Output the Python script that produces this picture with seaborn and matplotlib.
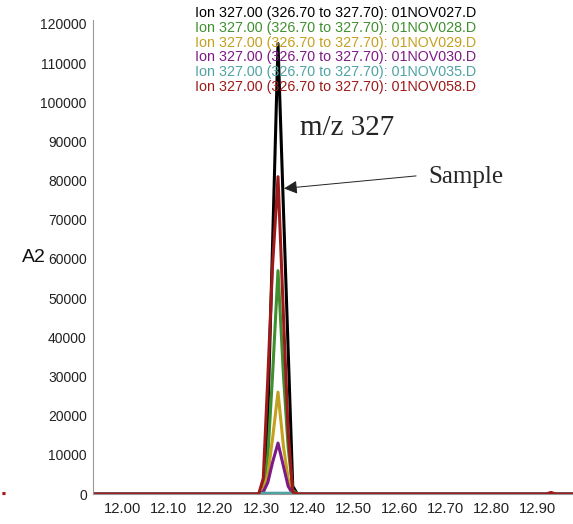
import numpy as np
import pandas as pd
import matplotlib
matplotlib.use("Agg")
import matplotlib.pyplot as plt
import seaborn as sns
from matplotlib.ticker import MultipleLocator, FixedLocator

# ---- data ----
times = [11.93, 12.295, 12.305, 12.315, 12.325, 12.337, 12.349, 12.359, 12.369, 12.379, 12.92, 12.93, 12.94, 12.98]
files = ["01NOV027.D", "01NOV028.D", "01NOV029.D", "01NOV030.D", "01NOV035.D", "01NOV058.D"]
s027 = [0, 0, 0, 20000, 63000, 115000, 72000, 37000, 2000, 0, 0, 0, 0, 0]
s028 = [0, 0, 1000, 10000, 30000, 57000, 30000, 12000, 1000, 0, 0, 0, 0, 0]
s029 = [0, 0, 1000, 5000, 14000, 26000, 12000, 4000, 0, 0, 0, 0, 0, 0]
s030 = [0, 0, 500, 3000, 8000, 13000, 7000, 2000, 0, 0, 0, 0, 0, 0]
s035 = [0, 0, 200, 200, 200, 200, 200, 200, 200, 0, 0, 0, 0, 0]
s058 = [0, 0, 4000, 30000, 58000, 81000, 45000, 16000, 500, 0, 0, 400, 0, 0]
series = [s027, s028, s029, s030, s035, s058]
colors = ["#000000", "#3f8f2f", "#c4a020", "#7e1a86", "#4fa3a3", "#9e1a1a"]
legend_label = "Ion 327.00 (326.70 to 327.70): {}"
yticks = list(range(0, 120001, 10000))
xticks = [12.00, 12.10, 12.20, 12.30, 12.40, 12.50, 12.60, 12.70, 12.80, 12.90]

rows = []
for f, vals in zip(files, series):
    for t, v in zip(times, vals):
        rows.append({"time": t, "abund": v, "file": f})
df = pd.DataFrame(rows)

sns.set_style("white")
plt.rcParams["font.family"] = ["Liberation Sans", "DejaVu Sans"]

W, H = 573, 524
fig = plt.figure(figsize=(W / 100, H / 100), dpi=100)
ax = fig.add_axes([93 / W, 1 - 494 / H, (W - 93) / W, (494 - 20) / H])

sns.lineplot(data=df, x="time", y="abund", hue="file", palette=dict(zip(files, colors)),
             hue_order=files, linewidth=2.2, legend=False, ax=ax, estimator=None, sort=False)

ax.set_xlim(11.935, 12.978)
ax.set_ylim(0, 121000)
ax.set_xlabel("")
ax.set_ylabel("")
ax.xaxis.set_major_locator(FixedLocator(xticks))
ax.xaxis.set_minor_locator(MultipleLocator(0.02))
ax.yaxis.set_major_locator(FixedLocator(yticks))
ax.yaxis.set_minor_locator(MultipleLocator(2000))
ax.set_xticklabels([f"{x:.2f}" for x in xticks])
ax.set_yticklabels([str(y) for y in yticks])
ax.tick_params(axis="both", which="major", length=3, width=0.8, color="#888888",
               labelsize=10, labelcolor="#222222", pad=1.5)
ax.tick_params(axis="x", which="major", labelsize=10.6, pad=3)
ax.tick_params(axis="both", which="minor", length=2, width=0.6, color="#aaaaaa")
ax.tick_params(axis="x", which="both", direction="out")
for s in ["top", "right"]:
    ax.spines[s].set_visible(False)
ax.spines["left"].set_color("#999999")
ax.spines["bottom"].set_color("#999999")
ax.spines["left"].set_linewidth(0.8)

# legend-like header
for i, (f, c) in enumerate(zip(files, colors)):
    fig.text(195 / W, 1 - (13 + i * 14.8) / H, legend_label.format(f), color=c,
             fontsize=10.3, ha="left", va="center")

fig.text(34 / W, 1 - 258 / H, "A2", fontsize=14, ha="center", va="center", color="#111111")

ax.text(12.385, 93400, "m/z 327", fontsize=21, family=["Liberation Serif"], ha="left", va="center")
ax.annotate("", xy=(12.350, 78000), xytext=(12.637, 81200),
            arrowprops=dict(arrowstyle="-|>", color="#222222", lw=0.7,
                            mutation_scale=20, shrinkA=0, shrinkB=0))
ax.text(12.663, 81000, "Sample", fontsize=18, family=["Liberation Serif"], ha="left", va="center")

fig.text(2 / W, 1 - 494 / H, "\u25a0", color="#9e1a1a", fontsize=3, ha="left", va="center",
         family=["DejaVu Sans"])

fig.savefig("out.png", dpi=100)
